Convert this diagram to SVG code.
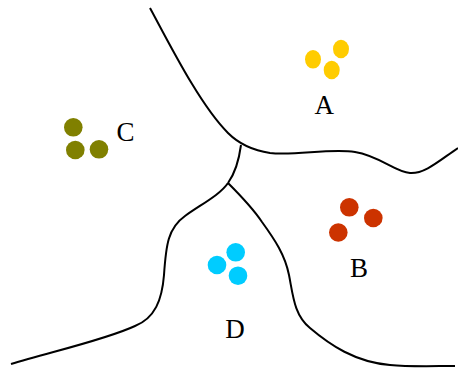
<svg xmlns="http://www.w3.org/2000/svg" width="458" height="370" viewBox="0 0 458 370">
<style>
.ln{fill:none;stroke:#000;stroke-width:2}
.lb{font-family:"Liberation Serif","Times New Roman",serif;font-size:27px;fill:#000;text-anchor:middle}
.a{fill:#FFCC00}.b{fill:#CC3300}.c{fill:#808000}.d{fill:#00CCFF}
</style>
<rect width="458" height="370" fill="#fff"/>
<g id="connectors">
<path class="ln" d="M150,8 C170,45 200,105 228,133 C238,143 250,150 270,153 C295,156 330,148 355,152 C380,156 395,172 410,173 C425,174 440,160 458,148"/>
<path class="ln" d="M241,145 C239,160 236,172 228,183"/>
<path class="ln" d="M228,183 C220,195 200,205 185,216 C168,228 166,245 164,275 C162,300 155,318 135,326 C105,340 50,352 11,364"/>
<path class="ln" d="M228,183 C240,195 252,207 262,222 C275,240 285,255 289,275 C293,295 294,315 310,328 C330,345 355,362 390,365 C410,367 435,366 455,366"/>
</g>
<g id="A">
<ellipse class="a" cx="313" cy="59.3" rx="8" ry="9.3"/>
<ellipse class="a" cx="341" cy="49" rx="8" ry="9.3"/>
<ellipse class="a" cx="331.7" cy="70" rx="8" ry="9.3"/>
<text class="lb" x="324.3" y="114">A</text>
</g>
<g id="B">
<circle class="b" cx="349.3" cy="207.3" r="9.3"/>
<circle class="b" cx="373.3" cy="218" r="9.3"/>
<circle class="b" cx="338.3" cy="232.5" r="9.3"/>
<text class="lb" x="359" y="277">B</text>
</g>
<g id="C">
<circle class="c" cx="73.3" cy="127.3" r="9.3"/>
<circle class="c" cx="75.3" cy="150" r="9.3"/>
<circle class="c" cx="99" cy="149.3" r="9.3"/>
<text class="lb" x="125.5" y="141">C</text>
</g>
<g id="D">
<circle class="d" cx="235.7" cy="252.3" r="9.3"/>
<circle class="d" cx="217" cy="265" r="9.3"/>
<circle class="d" cx="238" cy="275.7" r="9.3"/>
<text class="lb" x="235" y="337.5">D</text>
</g>
</svg>
